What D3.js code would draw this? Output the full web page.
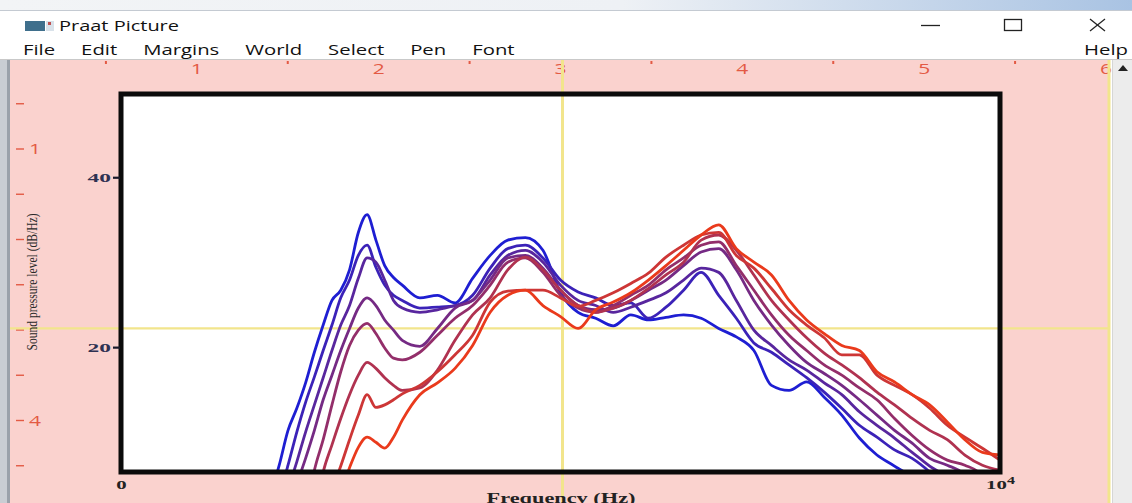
<!DOCTYPE html>
<html>
<head>
<meta charset="utf-8">
<title>Praat Picture</title>
<script src="https://cdn.jsdelivr.net/npm/d3@7"></script>
<style>
  html, body { margin: 0; padding: 0; background: #fff; overflow: hidden; }
  svg { display: block; }
</style>
</head>
<body>
<svg id="win" width="1132" height="503"></svg>
<script>
// --- data (Hz, dB/Hz) ---
const freqsHz = [1700, 1800, 1900, 2000, 2100, 2200, 2300, 2400, 2500, 2600, 2700, 2800, 2900, 3000, 3100, 3200,
  3400, 3600, 3800, 4000, 4200, 4400, 4600, 4800, 5000, 5200, 5400, 5600, 5800, 6000, 6200, 6400, 6600, 6800,
  7000, 7200, 7400, 7600, 7800, 8000, 8200, 8400, 8600, 8800, 9000, 9200, 9400, 9600, 9800, 10000];

// blue (first) ... red (last)
const spectrum1 = [2.6, 6.1, 10.2, 12.8, 15.8, 19.4, 22.6, 25.5, 26.7, 29.1, 33.5, 35.6, 32.6, 29.6, 28.2, 27.3,
  25.8, 26.1, 25.2, 28.1, 30.8, 32.6, 32.9, 31.4, 26.4, 24.1, 23.4, 22.5, 23.8, 23.2, 23.5, 23.8, 23.4, 22.2,
  21.2, 19.6, 15.5, 14.9, 15.9, 14.1, 12.0, 9.3, 7.3, 6.0, 4.4, 0, 0, 0, 0, 0];
const spectrum2 = [0, 2.6, 6.1, 10.0, 13.5, 16.5, 19.6, 22.6, 25.8, 27.9, 30.8, 32.0, 29.4, 27.3, 26.1, 25.5,
  24.6, 24.7, 24.9, 26.1, 29.3, 31.6, 32.0, 30.5, 27.9, 26.5, 25.8, 24.9, 25.2, 23.4, 24.7, 26.7, 28.8, 26.1,
  23.4, 20.5, 19.4, 17.9, 16.4, 14.7, 12.8, 10.8, 9.4, 7.9, 6.9, 5.3, 3.2, 0, 0, 0];
const spectrum3 = [0, 0, 3.2, 6.5, 10.0, 13.2, 16.4, 19.6, 22.6, 24.9, 28.1, 30.5, 30.0, 27.9, 25.5, 24.6,
  24.1, 24.4, 24.9, 25.5, 28.5, 30.8, 31.4, 30.0, 27.3, 25.5, 24.9, 24.1, 24.7, 25.5, 26.4, 27.9, 29.3, 28.8,
  25.5, 22.0, 20.2, 18.5, 17.3, 15.8, 14.4, 12.4, 10.8, 9.3, 7.6, 6.0, 4.4, 0, 0, 0];
const spectrum4 = [0, 0, 0, 3.8, 6.9, 10.2, 13.8, 16.7, 19.6, 22.2, 24.6, 25.8, 24.9, 23.2, 22.0, 20.8,
  20.1, 22.2, 24.6, 25.5, 27.9, 30.5, 30.8, 29.3, 26.7, 24.9, 24.4, 24.6, 25.5, 26.7, 27.9, 29.6, 31.2, 31.6,
  29.1, 25.5, 22.6, 20.2, 18.2, 16.9, 15.5, 13.8, 12.0, 10.2, 8.7, 6.9, 6.1, 4.9, 0, 0];
const spectrum5 = [0, 0, 0, 0, 0, 5.5, 9.1, 13.2, 17.1, 20.2, 22.0, 22.8, 21.6, 19.9, 18.7, 18.5,
  19.4, 21.4, 23.4, 24.9, 27.3, 30.0, 30.5, 28.8, 26.1, 24.6, 24.1, 24.9, 26.1, 27.3, 29.1, 30.5, 32.0, 32.4,
  29.6, 26.7, 23.8, 21.4, 19.6, 17.9, 16.7, 15.2, 13.8, 11.6, 9.6, 7.9, 6.7, 6.1, 4.9, 0];
const spectrum6 = [0, 0, 0, 0, 0, 0, 5.3, 8.5, 11.6, 14.4, 16.7, 18.2, 17.5, 16.4, 15.5, 14.9,
  15.2, 17.3, 20.8, 23.8, 25.8, 29.1, 30.6, 29.1, 26.7, 24.9, 24.1, 24.6, 25.5, 26.9, 28.5, 30.0, 32.6, 33.2,
  31.4, 28.5, 25.5, 23.2, 21.1, 19.3, 17.9, 16.4, 14.7, 13.2, 11.6, 10.2, 9.1, 7.3, 6.1, 5.5];
const spectrum7 = [0, 0, 0, 0, 0, 0, 0, 3.2, 6.0, 9.1, 12.0, 14.4, 12.9, 13.2, 13.8, 14.5,
  15.5, 17.1, 19.1, 21.4, 25.3, 26.6, 26.7, 26.7, 25.8, 24.8, 25.5, 26.4, 27.5, 28.7, 30.6, 32.0, 33.2, 33.5,
  30.8, 29.3, 26.9, 24.4, 22.6, 21.1, 19.1, 19.1, 16.7, 15.5, 14.4, 12.8, 10.8, 9.4, 8.1, 6.7];
const spectrum8 = [0, 0, 0, 0, 0, 0, 0, 0, 2.9, 5.8, 8.2, 9.4, 8.8, 8.1, 9.4, 11.4,
  14.4, 15.8, 17.5, 20.2, 24.1, 26.1, 26.7, 24.9, 23.6, 22.2, 24.4, 25.3, 26.4, 27.9, 29.6, 31.4, 33.2, 34.4,
  31.6, 30.0, 28.5, 25.5, 23.2, 21.6, 20.2, 19.6, 17.1, 15.9, 14.4, 13.2, 11.2, 9.1, 7.6, 7.3];

const yTicks = [20, 40];
const xTicks = [0, 10000];
const menuItems = ["File", "Edit", "Margins", "World", "Select", "Pen", "Font"];
const topRulerLabels = [1, 2, 3, 4, 5, 6];
const leftRulerLabels = [1, 4];
const selectionHz = 5000;    // yellow cross-hair
const selectionDb = 22.2;

const W = 1132, H = 503;
const svg = d3.select("#win");
const uiFont = "'Open Sans', 'Noto Sans', sans-serif";
const serif = "'Liberation Serif', 'DejaVu Serif', serif";

// stretch text horizontally (the screenshot is wider than tall)
function wide(sel, k) {
  sel.each(function() {
    const w = this.getComputedTextLength();
    d3.select(this).attr("textLength", w * k).attr("lengthAdjust", "spacingAndGlyphs");
  });
  return sel;
}

// --- window chrome ---
const defs = svg.append("defs");
const band = defs.append("linearGradient").attr("id", "topband");
band.append("stop").attr("offset", "0%").attr("stop-color", "#f2f4f6");
band.append("stop").attr("offset", "55%").attr("stop-color", "#eef1f5");
band.append("stop").attr("offset", "100%").attr("stop-color", "#a9c3e3");
svg.append("rect").attr("width", W).attr("height", 10).attr("fill", "url(#topband)");
svg.append("line").attr("x1", 0).attr("x2", W).attr("y1", 10.5).attr("y2", 10.5).attr("stroke", "#c4cad2");

// title icon + title
svg.append("rect").attr("x", 25).attr("y", 21).attr("width", 20).attr("height", 10).attr("fill", "#3f6f8c");
svg.append("rect").attr("x", 46).attr("y", 21).attr("width", 8).attr("height", 10).attr("fill", "#d9e2ea");
svg.append("rect").attr("x", 48).attr("y", 22).attr("width", 3).attr("height", 3).attr("fill", "#c05050");
svg.append("text").attr("x", 59).attr("y", 31).attr("font-family", uiFont).attr("font-size", 14)
  .attr("fill", "#111").attr("textLength", 120).attr("lengthAdjust", "spacingAndGlyphs").text("Praat Picture");

// window buttons
svg.append("line").attr("x1", 921).attr("x2", 940).attr("y1", 25.5).attr("y2", 25.5).attr("stroke", "#222").attr("stroke-width", 1.3);
svg.append("rect").attr("x", 1004.5).attr("y", 19.5).attr("width", 17).attr("height", 11).attr("fill", "none").attr("stroke", "#222").attr("stroke-width", 1.3);
svg.append("line").attr("x1", 1090).attr("x2", 1105).attr("y1", 19).attr("y2", 31).attr("stroke", "#222").attr("stroke-width", 1.3);
svg.append("line").attr("x1", 1105).attr("x2", 1090).attr("y1", 19).attr("y2", 31).attr("stroke", "#222").attr("stroke-width", 1.3);

// menu bar
const menu = svg.append("g").attr("font-family", uiFont).attr("font-size", 14).attr("fill", "#111");
let mx = 23;
menuItems.forEach(label => {
  const t = menu.append("text").attr("x", mx).attr("y", 55).text(label);
  const w = t.node().getComputedTextLength() * 1.45;
  t.attr("textLength", w).attr("lengthAdjust", "spacingAndGlyphs");
  mx += w + 26;
});
menu.append("text").attr("x", 1084).attr("y", 55).attr("textLength", 44).attr("lengthAdjust", "spacingAndGlyphs").text("Help");
svg.append("line").attr("x1", 0).attr("x2", W).attr("y1", 59.5).attr("y2", 59.5).attr("stroke", "#c9c9c9");

// picture area (pink), side strip and scrollbar
svg.append("rect").attr("x", 0).attr("y", 60).attr("width", 10).attr("height", H - 60).attr("fill", "#c9cdd3");
svg.append("rect").attr("x", 7).attr("y", 60).attr("width", 3).attr("height", H - 60).attr("fill", "#9aa1aa");
svg.append("rect").attr("x", 10).attr("y", 60).attr("width", 1100).attr("height", H - 60).attr("fill", "#fad2ce");
svg.append("rect").attr("x", 1112).attr("y", 60).attr("width", 20).attr("height", H - 60).attr("fill", "#ececec");
svg.append("line").attr("x1", 1112.5).attr("x2", 1112.5).attr("y1", 60).attr("y2", H).attr("stroke", "#d6d6d6");
svg.append("path").attr("d", "M1118,71 L1128,71 L1123,65 Z").attr("fill", "#222");

// rulers (inches)
const rulerX = d3.scaleLinear().domain([0, 6]).range([15, 1106]);
const rulerY = d3.scaleLinear().domain([0, 5]).range([58.5, 511]);
const rulerCol = "#e35a44";
svg.append("g").selectAll("rect").data(d3.range(0.5, 6, 1)).join("rect")
  .attr("x", d => rulerX(d) - 1).attr("y", 61).attr("width", 2).attr("height", 3).attr("fill", rulerCol);
wide(svg.append("g").attr("font-family", uiFont).attr("font-size", 14).attr("fill", rulerCol)
  .selectAll("text").data(topRulerLabels).join("text")
  .attr("x", d => rulerX(d)).attr("y", 74).attr("text-anchor", "middle").text(d => d), 1.5);
svg.append("g").selectAll("line").data(d3.range(0.5, 5, 0.5)).join("line")
  .attr("x1", 16).attr("x2", 24).attr("y1", d => rulerY(d)).attr("y2", d => rulerY(d))
  .attr("stroke", rulerCol).attr("stroke-width", 1.4);
wide(svg.append("g").attr("font-family", uiFont).attr("font-size", 14).attr("fill", rulerCol)
  .selectAll("text").data(leftRulerLabels).join("text")
  .attr("x", 29).attr("y", d => rulerY(d) + 5).text(d => d), 1.5);

// --- the chart ---
const plotL = 121, plotR = 1000, plotT = 94, plotB = 472;
const x = d3.scaleLinear().domain([0, 10000]).range([plotL, plotR]);
const y = d3.scaleLinear().domain([5.3, 49.8]).range([plotB, plotT]);

svg.append("rect").attr("x", plotL).attr("y", plotT).attr("width", plotR - plotL).attr("height", plotB - plotT).attr("fill", "#fff");

// selection cross-hair and right selection edge
const yellow = "#f2e58c";
svg.append("line").attr("x1", 10).attr("x2", 1110).attr("y1", y(selectionDb)).attr("y2", y(selectionDb))
  .attr("stroke", yellow).attr("stroke-width", 2.2);
svg.append("line").attr("x1", x(selectionHz) + 2).attr("x2", x(selectionHz) + 2).attr("y1", 60).attr("y2", H)
  .attr("stroke", yellow).attr("stroke-width", 3);
svg.append("line").attr("x1", 1109).attr("x2", 1109).attr("y1", 60).attr("y2", H)
  .attr("stroke", yellow).attr("stroke-width", 3);

defs.append("clipPath").attr("id", "plotclip").append("rect")
  .attr("x", plotL).attr("y", plotT).attr("width", plotR - plotL).attr("height", plotB - plotT);

const spectra = [spectrum1, spectrum2, spectrum3, spectrum4, spectrum5, spectrum6, spectrum7, spectrum8];
const colour = d3.scaleLinear().domain([0, spectra.length - 1]).range(["#1e1ed2", "#ea3a1c"]).interpolate(d3.interpolateRgb);
const line = d3.line().x(d => x(d[0])).y(d => y(d[1])).curve(d3.curveMonotoneX);

svg.append("g").attr("clip-path", "url(#plotclip)")
  .selectAll("path").data(spectra).join("path")
  .attr("d", s => line(freqsHz.map((f, i) => [f, s[i]])))
  .attr("fill", "none")
  .attr("stroke", (s, i) => colour(i))
  .attr("stroke-width", 2.8)
  .attr("stroke-linejoin", "round");

// frame
svg.append("rect").attr("x", plotL).attr("y", plotT).attr("width", plotR - plotL).attr("height", plotB - plotT)
  .attr("fill", "none").attr("stroke", "#0b0b0b").attr("stroke-width", 5);

// axes
const gy = svg.append("g").attr("transform", `translate(${plotL - 1},0)`)
  .call(d3.axisLeft(y).tickValues(yTicks).tickSize(7).tickPadding(2).tickFormat(d3.format("d")));
gy.select(".domain").remove();
gy.selectAll("line").attr("stroke", "#1a1a2a").attr("stroke-width", 2.2);
gy.selectAll("text").attr("font-family", serif).attr("font-weight", "bold").attr("font-size", 13).attr("fill", "#2e3152");
wide(gy.selectAll("text"), 1.8);

const gx = svg.append("g").attr("transform", `translate(0,${plotB})`)
  .call(d3.axisBottom(x).tickValues(xTicks).tickSize(0).tickPadding(8).tickFormat(d => d === 0 ? "0" : "10"));
gx.select(".domain").remove();
gx.selectAll("text").attr("font-family", serif).attr("font-weight", "bold").attr("font-size", 13).attr("fill", "#222");
gx.selectAll("text").filter(d => d === 10000).append("tspan").attr("dy", -5).attr("font-size", 10).text("4");
wide(gx.selectAll("text"), 1.6);

svg.append("text").attr("x", 561).attr("y", 503).attr("text-anchor", "middle")
  .attr("font-family", serif).attr("font-weight", "bold").attr("font-size", 15).attr("fill", "#222")
  .attr("textLength", 149).attr("lengthAdjust", "spacingAndGlyphs").text("Frequency (Hz)");

svg.append("text").attr("transform", "translate(37,282) rotate(-90)").attr("text-anchor", "middle")
  .attr("font-family", serif).attr("font-size", 15).attr("fill", "#2a2a2a")
  .attr("textLength", 137).attr("lengthAdjust", "spacingAndGlyphs").text("Sound pressure level (dB/Hz)");
</script>
</body>
</html>
